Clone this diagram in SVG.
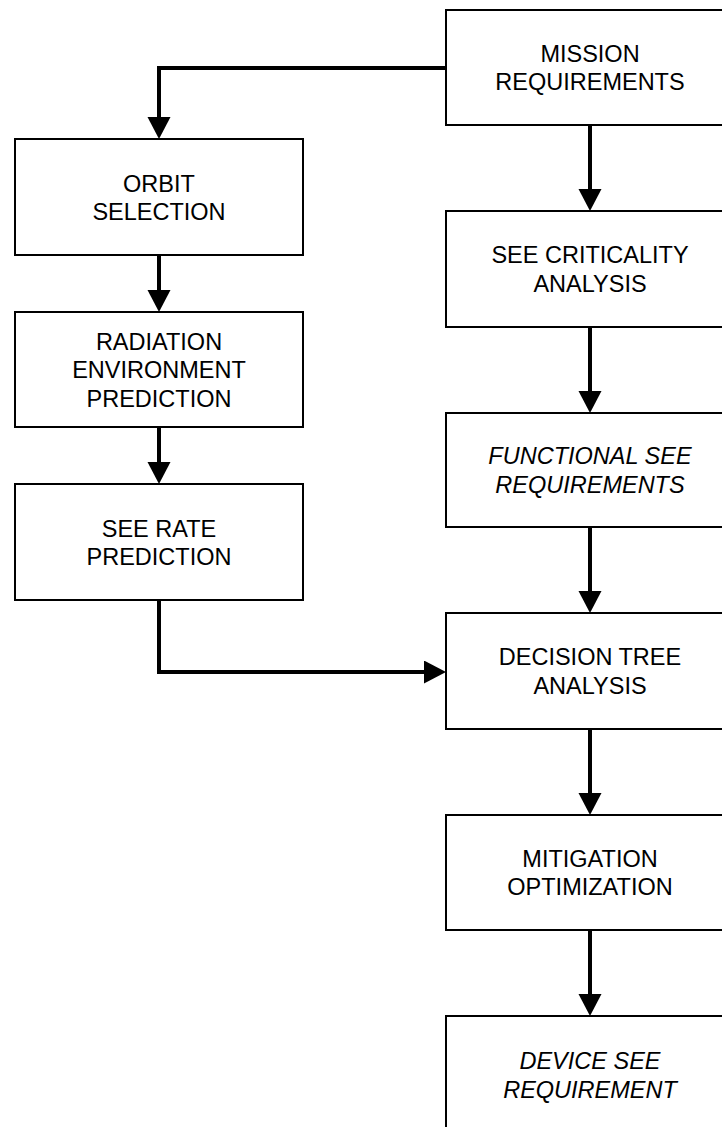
<svg xmlns="http://www.w3.org/2000/svg" width="722" height="1127" viewBox="0 0 722 1127">
  <style>
    .box { fill: #ffffff; stroke: #000000; stroke-width: 2; }
    .lbl { font-family: "Liberation Sans", Arial, sans-serif; font-size: 23.5px; fill: #000000; text-anchor: middle; }
    .it { font-style: italic; }
    .wire { fill: none; stroke: #000000; stroke-width: 4; marker-end: url(#head); }
  </style>
  <defs>
    <marker id="head" markerUnits="userSpaceOnUse" markerWidth="22" markerHeight="24" refX="2" refY="11.5" orient="auto">
      <path d="M0,0 L22,11.5 L0,23 Z" fill="#000000"/>
    </marker>
  </defs>
  <rect width="722" height="1127" fill="#ffffff"/>

  <g id="connectors">
    <path class="wire" d="M446,68 H159 V119"/>
    <path class="wire" d="M159,255 V292"/>
    <path class="wire" d="M159,427 V464"/>
    <path class="wire" d="M159,600 V672 H426"/>
    <path class="wire" d="M590,125 V191"/>
    <path class="wire" d="M590,327 V393"/>
    <path class="wire" d="M590,527 V593"/>
    <path class="wire" d="M590,729 V795"/>
    <path class="wire" d="M590,930 V996"/>
  </g>

  <g id="mission">
    <rect class="box" x="446" y="10" width="288" height="115"/>
    <text class="lbl" x="590" y="61.7">MISSION</text>
    <text class="lbl" x="590" y="90">REQUIREMENTS</text>
  </g>
  <g id="orbit">
    <rect class="box" x="15" y="139" width="288" height="116"/>
    <text class="lbl" x="159" y="192">ORBIT</text>
    <text class="lbl" x="159" y="220.2">SELECTION</text>
  </g>
  <g id="radiation">
    <rect class="box" x="15" y="312" width="288" height="115"/>
    <text class="lbl" x="159" y="349.5">RADIATION</text>
    <text class="lbl" x="159" y="378">ENVIRONMENT</text>
    <text class="lbl" x="159" y="406.5">PREDICTION</text>
  </g>
  <g id="seerate">
    <rect class="box" x="15" y="484" width="288" height="116"/>
    <text class="lbl" x="159" y="536.5">SEE RATE</text>
    <text class="lbl" x="159" y="565">PREDICTION</text>
  </g>
  <g id="criticality">
    <rect class="box" x="446" y="211" width="288" height="116"/>
    <text class="lbl" x="590" y="263.2">SEE CRITICALITY</text>
    <text class="lbl" x="590" y="291.6">ANALYSIS</text>
  </g>
  <g id="functional">
    <rect class="box" x="446" y="413" width="288" height="114"/>
    <text class="lbl it" x="590" y="464.2">FUNCTIONAL SEE</text>
    <text class="lbl it" x="590" y="492.6">REQUIREMENTS</text>
  </g>
  <g id="decision">
    <rect class="box" x="446" y="613" width="288" height="116"/>
    <text class="lbl" x="590" y="665.2">DECISION TREE</text>
    <text class="lbl" x="590" y="693.6">ANALYSIS</text>
  </g>
  <g id="mitigation">
    <rect class="box" x="446" y="815" width="288" height="115"/>
    <text class="lbl" x="590" y="866.7">MITIGATION</text>
    <text class="lbl" x="590" y="895.1">OPTIMIZATION</text>
  </g>
  <g id="device">
    <rect class="box" x="446" y="1016" width="288" height="130"/>
    <text class="lbl it" x="590" y="1069">DEVICE SEE</text>
    <text class="lbl it" x="590" y="1097.5">REQUIREMENT</text>
  </g>
</svg>
